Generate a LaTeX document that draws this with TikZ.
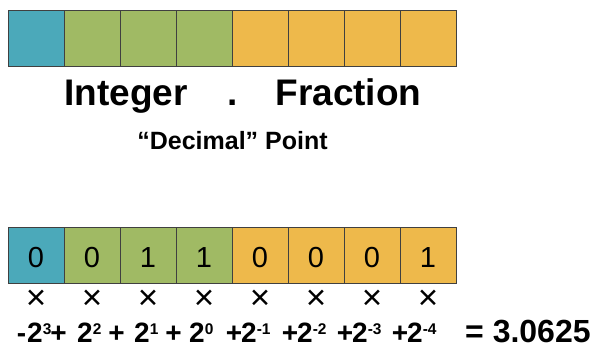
\documentclass[tikz,border=0pt]{standalone}
\usepackage{fontspec}
\setmainfont{Liberation Sans}
\usepackage{xcolor}
\definecolor{bitteal}{HTML}{4BA9BA}
\definecolor{bitgreen}{HTML}{A0BA64}
\definecolor{bitgold}{HTML}{EEB94B}
\usetikzlibrary{positioning}
\newcommand\pw[1]{\raisebox{8.5pt}{\fontsize{15.5}{15.5}\selectfont #1}}
\tikzset{
  cellbox/.style={draw=black!75, line width=0.8pt, inner sep=0pt,
                  minimum width=56pt, minimum height=56pt},
  csign/.style={cellbox, fill=bitteal},
  cint/.style={cellbox, fill=bitgreen},
  cfrac/.style={cellbox, fill=bitgold},
  bitval/.style={font=\fontsize{29}{29}\selectfont, inner sep=0pt, anchor=base},
  big/.style={font=\bfseries\fontsize{37}{37}\selectfont, inner sep=0pt},
  term/.style={font=\bfseries\fontsize{28}{28}\selectfont, inner sep=0pt},
}

\begin{document}
\begin{tikzpicture}[x=1pt, y=-1pt]
  \useasboundingbox (0,0) rectangle (600,345);
  % top row: sign, integer and fraction bits
  \foreach \i/\st in {0/csign,1/cint,2/cint,3/cint,4/cfrac,5/cfrac,6/cfrac,7/cfrac}
    \node[\st] (t\i) at (36+56*\i,38) {};
  \node[big, anchor=base] (int) at (126,105.5) {Integer};
  \node[big, anchor=base] (dot) at (232.5,105.5) {.};
  \node[big, anchor=base] (frac) at (348.5,105.5) {Fraction};
  \node[font=\bfseries\fontsize{25}{25}\selectfont, inner sep=0pt, anchor=base]
    (point) at (232.5,149.5) {“Decimal” Point};
  % bottom row: an example value
  \foreach \i/\st/\b in {0/csign/0,1/cint/0,2/cint/1,3/cint/1,4/cfrac/0,5/cfrac/0,6/cfrac/0,7/cfrac/1}{
    \node[\st] (b\i) at (36+56*\i,255) {};
    \node[bitval] (v\i) at (36+56*\i,267.5) {\b};
    \node[font=\fontsize{35}{35}\selectfont, inner sep=0pt] (x\i) at (36+56*\i,299.5) {×};
  }
  % weights and signs
  \foreach \x/\e [count=\k] in {27/3, 77/2, 134/1, 189/0, 241/-1, 297/-2, 352/-3, 407/-4}
    \node[term, anchor=base west] (w\k) at (\x,342.5) {2\pw{\e}};
  \foreach \x/\s [count=\k] in {21.5/-, 58.5/+, 116.5/+, 173.5/+, 234/+, 290/+, 345/+, 400/+}
    \node[term, anchor=base] (s\k) at (\x,342.5) {\s};
  \node[font=\bfseries\fontsize{32}{32}\selectfont, inner sep=0pt, anchor=base west]
    (sum) at (465,342.5) {= 3.0625};
\end{tikzpicture}
\end{document}
